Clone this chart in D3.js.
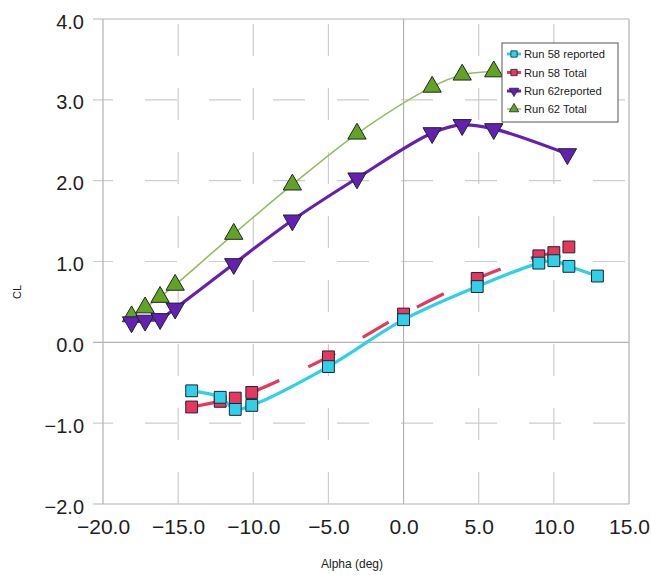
<!DOCTYPE html>
<html><head><meta charset="utf-8">
<script src="https://cdn.jsdelivr.net/npm/d3@7"></script>
<style>body{margin:0;background:#fff;}svg{display:block;font-family:"Liberation Sans",Arial,sans-serif;}</style>
</head><body>
<script>
// ---- data ----
const xTicks = [-20, -15, -10, -5, 0, 5, 10, 15];
const yTicks = [-2, -1, 0, 1, 2, 3, 4];
const alpha58r = [-14.1, -12.2, -11.2, -10.1, -5.0, 0.0, 4.9, 9.0, 10.0, 11.0, 12.9];
const cl58r    = [-0.60, -0.68, -0.83, -0.78, -0.30, 0.28, 0.69, 0.98, 1.01, 0.94, 0.82];
const alpha58t = [-14.1, -12.2, -11.2, -10.1, -5.0, 0.0, 4.9, 9.0, 10.0, 11.0];
const cl58t    = [-0.80, -0.73, -0.69, -0.62, -0.18, 0.35, 0.79, 1.07, 1.11, 1.18];
const alpha62r = [-18.1, -17.2, -16.2, -15.2, -11.3, -7.4, -3.1, 1.9, 3.9, 6.0, 10.9];
const cl62r    = [0.25, 0.27, 0.29, 0.42, 0.97, 1.51, 2.03, 2.59, 2.69, 2.64, 2.33];
const alpha62t = [-18.1, -17.2, -16.2, -15.2, -11.3, -7.4, -3.1, 1.9, 3.9, 6.0];
const cl62t    = [0.32, 0.43, 0.56, 0.71, 1.34, 1.95, 2.58, 3.16, 3.31, 3.35];
const seriesNames = ["Run 58 reported", "Run 58 Total", "Run 62reported", "Run 62 Total"];

const W = 651, H = 575;
const svg = d3.select("body").append("svg").attr("width", W).attr("height", H);
const x = d3.scaleLinear().domain([-20, 15]).range([103, 629]);
const y = d3.scaleLinear().domain([-2, 4]).range([504, 19]);
const gridCol = "#cdcdcd", axisCol = "#b3b3b3";

// grid
const g = svg.append("g");
yTicks.forEach(t => {
  const solid = (t === 0 || t === 4 || t === -2);
  g.append("line").attr("x1", x(-20) - 10).attr("x2", x(15))
    .attr("y1", y(t)).attr("y2", y(t))
    .attr("stroke", solid ? axisCol : gridCol).attr("stroke-width", 1.2)
    .attr("stroke-dasharray", solid ? null : "32,32").attr("stroke-dashoffset", solid ? null : 12);
});
xTicks.forEach(t => {
  const solid = (t === 0 || t === -20 || t === 15);
  g.append("line").attr("x1", x(t)).attr("x2", x(t))
    .attr("y1", y(-2)).attr("y2", y(4))
    .attr("stroke", solid ? axisCol : gridCol).attr("stroke-width", 1.2)
    .attr("stroke-dasharray", solid ? null : "32,32");
});

// axes labels via d3 axes (ticks hidden, labels styled)
const xAxis = svg.append("g").attr("transform", `translate(0,${y(-2)})`)
  .call(d3.axisBottom(x).tickValues(xTicks).tickFormat(d3.format(".1f")).tickSize(0).tickPadding(14));
xAxis.select(".domain").remove();
xAxis.selectAll("text").attr("font-size", 21).attr("fill", "#1e1e1e")
  .attr("font-family", "Liberation Sans, Arial, sans-serif").attr("dy", "0.71em").attr("y", 15);
const yAxis = svg.append("g").attr("transform", `translate(${x(-20)},0)`)
  .call(d3.axisLeft(y).tickValues(yTicks).tickFormat(d3.format(".1f")).tickSize(0).tickPadding(19));
yAxis.select(".domain").remove();
yAxis.selectAll("text").attr("font-size", 20).attr("fill", "#1e1e1e")
  .attr("font-family", "Liberation Sans, Arial, sans-serif").attr("dy", "0.45em");

svg.append("text").attr("x", 352).attr("y", 568).attr("text-anchor", "middle")
  .attr("font-size", 12).attr("fill", "#222").text("Alpha (deg)");
svg.append("text").attr("transform", "translate(21,292) rotate(-90)").attr("text-anchor", "middle")
  .attr("font-size", 11).attr("fill", "#222").text("CL");

// series
const cyan = "#2fd0e8", red = "#e8365e", purple = "#6420b0", green = "#62a321", greenLine = "#93bd5e";
const outline = "#1c2530";
const mk = (xs, ys) => xs.map((a, i) => [a, ys[i]]);
const d58r = mk(alpha58r, cl58r), d58t = mk(alpha58t, cl58t), d62r = mk(alpha62r, cl62r), d62t = mk(alpha62t, cl62t);
const line = d3.line().x(d => x(d[0])).y(d => y(d[1])).curve(d3.curveCatmullRom.alpha(0.5));

function drawMarkers(data, type, size, fill, rot) {
  svg.append("g").selectAll("path").data(data).join("path")
    .attr("d", d3.symbol().type(type).size(size))
    .attr("transform", d => `translate(${x(d[0])},${y(d[1])}) rotate(${rot})`)
    .attr("fill", fill).attr("stroke", outline).attr("stroke-width", 1);
}

// Run 62 Total
svg.append("path").datum(d62t).attr("d", line).attr("fill", "none").attr("stroke", greenLine).attr("stroke-width", 1.6);
// Run 62 reported
svg.append("path").datum(d62r).attr("d", line).attr("fill", "none").attr("stroke", purple).attr("stroke-width", 3.2);
drawMarkers(d62t, d3.symbolTriangle, 145, green, 0);
drawMarkers(d62r, d3.symbolTriangle, 145, purple, 180);
// Run 58 Total
svg.append("path").datum(d58t).attr("d", line).attr("fill", "none").attr("stroke", red).attr("stroke-width", 3.2)
  .attr("stroke-dasharray", "30,32").attr("stroke-dashoffset", 0);
drawMarkers(d58t, d3.symbolSquare, 140, red, 0);
// Run 58 reported
svg.append("path").datum(d58r).attr("d", line).attr("fill", "none").attr("stroke", cyan).attr("stroke-width", 3.2);
drawMarkers(d58r, d3.symbolSquare, 140, cyan, 0);

// legend
const lg = svg.append("g");
lg.append("rect").attr("x", 502).attr("y", 43).attr("width", 116).attr("height", 79)
  .attr("fill", "#fff").attr("stroke", "#555").attr("stroke-width", 1);
const legItems = [
  {c: cyan, t: d3.symbolSquare, r: 0, f: cyan, w: 3},
  {c: red, t: d3.symbolSquare, r: 0, f: red, w: 3},
  {c: purple, t: d3.symbolTriangle, r: 180, f: purple, w: 3},
  {c: greenLine, t: d3.symbolTriangle, r: 0, f: green, w: 1.5}
];
const legY = [54, 72.5, 91, 109];
legItems.forEach((it, i) => {
  const yy = legY[i];
  lg.append("line").attr("x1", 507).attr("x2", 521).attr("y1", yy).attr("y2", yy)
    .attr("stroke", it.c).attr("stroke-width", it.w);
  lg.append("path").attr("d", d3.symbol().type(it.t).size(40)())
    .attr("transform", `translate(514,${yy}) rotate(${it.r})`)
    .attr("fill", it.f).attr("stroke", outline).attr("stroke-width", 0.8);
  lg.append("text").attr("x", 524).attr("y", yy + 4).attr("font-size", 11.2).attr("fill", "#222")
    .text(seriesNames[i]);
});
</script>
</body></html>
